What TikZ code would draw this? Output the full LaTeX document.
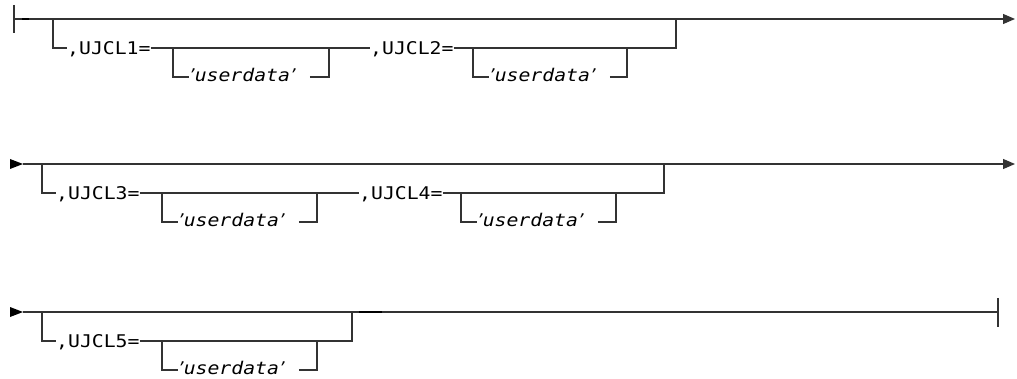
\documentclass[tikz,border=0pt]{standalone}
\usepackage{fontspec}
\newfontfamily\kwfont[FakeStretch=1.13]{DejaVu Sans Mono}
\newfontfamily\qtfont{DejaVu Sans}
\usetikzlibrary{arrows.meta}
\tikzset{
  rail/.style={draw=black!80, line width=1.2pt},
  railarr/.style={rail, -{Triangle[length=12pt, width=10pt]}},
  endbar/.style={draw=black!80, line width=1.4pt},
  thickdash/.style={draw=black, line width=2.4pt},
  kwnode/.style={anchor=west, inner sep=0pt, text height=12.8pt, text depth=0pt,
    font=\kwfont\fontsize{17.5}{19}\selectfont},
  varnode/.style={kwnode, text height=9.5pt},
}
\newcommand{\uvar}[1]{{\qtfont\itshape ’}{\kwfont\itshape #1}{\qtfont\itshape ’}}

\begin{document}
\begin{tikzpicture}[x=1pt, y=-1pt]
  \useasboundingbox (0,0) rectangle (1017,379);

  % Row 1
  \coordinate (s1) at (14,19);
  \coordinate (e1) at (1015,19);
  \coordinate (j1a) at (53,19);
  \coordinate (j1b) at (676,19);
  \coordinate (i1a) at (173,48);
  \coordinate (i1b) at (329,48);
  \coordinate (i2a) at (473,48);
  \coordinate (i2b) at (627,48);
  \node[kwnode] (kw1) at (67,48) {,UJCL1=};
  \node[varnode] (ud1) at (189,77) {\uvar{userdata}};
  \node[kwnode] (kw2) at (370,48) {,UJCL2=};
  \node[varnode] (ud2) at (489,77) {\uvar{userdata}};

  \draw[endbar] ([yshift=14pt]s1) -- ([yshift=-14pt]s1);
  \draw[railarr] (s1) -- (e1);
  \draw[thickdash] ([xshift=8pt]s1) -- ([xshift=15pt]s1);
  \draw[rail] (j1a) |- (kw1.west);
  \draw[rail] (kw1.east) -- (kw2.west);
  \draw[rail] (kw2.east) -| (j1b);
  \draw[rail] (i1a) |- (ud1.west);
  \draw[rail] ([xshift=14pt]ud1.east) -| (i1b);
  \draw[rail] (i2a) |- (ud2.west);
  \draw[rail] ([xshift=14pt]ud2.east) -| (i2b);

  % Row 2
  \coordinate (s2) at (23,164);
  \coordinate (e2) at (1015,164);
  \coordinate (j2a) at (42,164);
  \coordinate (j2b) at (664,164);
  \coordinate (i3a) at (162,193);
  \coordinate (i3b) at (317,193);
  \coordinate (i4a) at (461,193);
  \coordinate (i4b) at (616,193);
  \node[kwnode] (kw3) at (56,193) {,UJCL3=};
  \node[varnode] (ud3) at (178,222) {\uvar{userdata}};
  \node[kwnode] (kw4) at (359,193) {,UJCL4=};
  \node[varnode] (ud4) at (477,222) {\uvar{userdata}};

  \fill[black] ([shift={(-13,-5)}]s2) -- (s2) -- ([shift={(-13,5)}]s2) -- cycle;
  \draw[railarr] (s2) -- (e2);
  \draw[rail] (j2a) |- (kw3.west);
  \draw[rail] (kw3.east) -- (kw4.west);
  \draw[rail] (kw4.east) -| (j2b);
  \draw[rail] (i3a) |- (ud3.west);
  \draw[rail] ([xshift=14pt]ud3.east) -| (i3b);
  \draw[rail] (i4a) |- (ud4.west);
  \draw[rail] ([xshift=14pt]ud4.east) -| (i4b);

  % Row 3
  \coordinate (s3) at (23,312);
  \coordinate (e3) at (998,312);
  \coordinate (j3a) at (42,312);
  \coordinate (j3b) at (352,312);
  \coordinate (i5a) at (162,341);
  \coordinate (i5b) at (317,341);
  \node[kwnode] (kw5) at (56,341) {,UJCL5=};
  \node[varnode] (ud5) at (178,370) {\uvar{userdata}};

  \fill[black] ([shift={(-13,-5)}]s3) -- (s3) -- ([shift={(-13,5)}]s3) -- cycle;
  \draw[rail] (s3) -- (e3);
  \draw[endbar] ([yshift=14pt]e3) -- ([yshift=-15pt]e3);
  \draw[thickdash] ([xshift=7pt]j3b) -- ([xshift=30pt]j3b);
  \draw[rail] (j3a) |- (kw5.west);
  \draw[rail] (kw5.east) -| (j3b);
  \draw[rail] (i5a) |- (ud5.west);
  \draw[rail] ([xshift=14pt]ud5.east) -| (i5b);
\end{tikzpicture}
\end{document}
